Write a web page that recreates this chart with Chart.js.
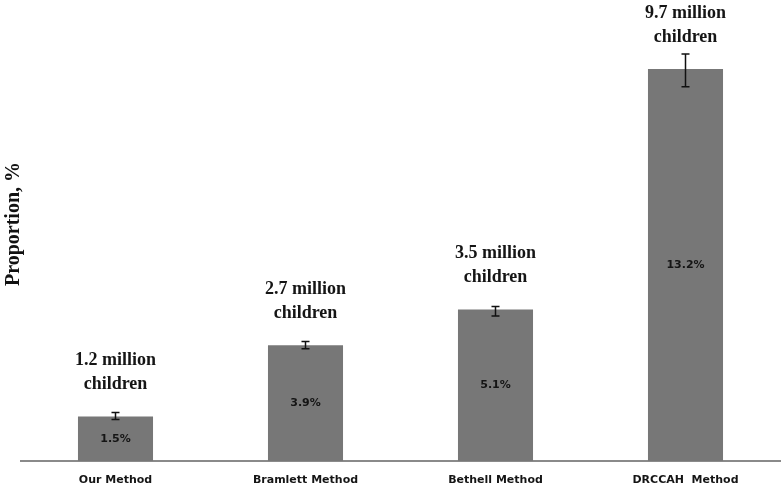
<!DOCTYPE html>
<html>
<head>
<meta charset="utf-8">
<script src="https://cdn.jsdelivr.net/npm/chart.js@4"></script>
<style>
  html, body { margin: 0; padding: 0; background: #fff; }
  #wrap { width: 782px; height: 487px; }
</style>
</head>
<body>
<div id="wrap"><canvas id="propChart"></canvas></div>
<script>
// Chart data
const methods = ['Our Method', 'Bramlett Method', 'Bethell Method', 'DRCCAH  Method'];
const proportions = [1.5, 3.9, 5.1, 13.2];
const errPlus = [0.13, 0.12, 0.1, 0.5];
const errMinus = [0.1, 0.12, 0.22, 0.6];
const valueLabels = ['1.5%', '3.9%', '5.1%', '13.2%'];
const countLabels = ['1.2 million', '2.7 million', '3.5 million', '9.7 million'];
const countUnit = 'children';
const yTitle = 'Proportion, %';

// error bars, labels and axis title drawn over the bars
const annotatePlugin = {
  id: 'annotate',
  afterDatasetsDraw(chart) {
    const ctx = chart.ctx;
    const meta = chart.getDatasetMeta(0);
    const y = chart.scales.y;
    ctx.save();
    meta.data.forEach((bar, i) => {
      const x = bar.x;
      const top = bar.y;
      const bottom = bar.base;

      // error bar
      const yHi = y.getPixelForValue(proportions[i] + errPlus[i]);
      const yLo = y.getPixelForValue(proportions[i] - errMinus[i]);
      ctx.strokeStyle = '#111';
      ctx.lineWidth = 1.5;
      ctx.beginPath();
      ctx.moveTo(x, yHi); ctx.lineTo(x, yLo);
      ctx.moveTo(x - 4, yHi); ctx.lineTo(x + 4, yHi);
      ctx.moveTo(x - 4, yLo); ctx.lineTo(x + 4, yLo);
      ctx.stroke();

      // value inside bar
      ctx.fillStyle = '#151515';
      ctx.font = 'bold 11px "DejaVu Sans"';
      ctx.textAlign = 'center';
      ctx.textBaseline = 'middle';
      ctx.fillText(valueLabels[i], x, (top + bottom) / 2);

      // count above bar
      ctx.font = 'bold 18px "Liberation Serif"';
      ctx.fillText(countLabels[i], x, top - 56);
      ctx.fillText(countUnit, x, top - 32);
    });

    // y axis title
    ctx.translate(14, 224);
    ctx.rotate(-Math.PI / 2);
    ctx.font = 'bold 20px "Liberation Serif"';
    ctx.fillStyle = '#111';
    ctx.fillText(yTitle, 0, 0);
    ctx.restore();
  }
};

document.addEventListener('DOMContentLoaded', () => {
  const canvas = document.getElementById('propChart');
  new Chart(canvas, {
    type: 'bar',
    data: {
      labels: methods,
      datasets: [{
        label: 'Proportion',
        data: proportions,
        backgroundColor: '#777777',
        categoryPercentage: 1,
        barPercentage: 0.395
      }]
    },
    options: {
      responsive: true,
      maintainAspectRatio: false,
      animation: false,
      layout: { padding: { left: 20.5, right: 1.5, top: 15.5, bottom: 0 } },
      plugins: {
        legend: { display: false },
        tooltip: { enabled: false }
      },
      scales: {
        x: {
          grid: { display: false, drawTicks: false },
          border: { display: true, color: '#8a8a8a', width: 2 },
          ticks: {
            color: '#151515',
            padding: 13,
            font: { family: '"DejaVu Sans"', weight: 'bold', size: 11 }
          },
          afterFit(scale) { scale.height = 26; }
        },
        y: {
          display: false,
          min: 0,
          max: 15
        }
      }
    },
    plugins: [annotatePlugin]
  });
});
</script>
</body>
</html>
